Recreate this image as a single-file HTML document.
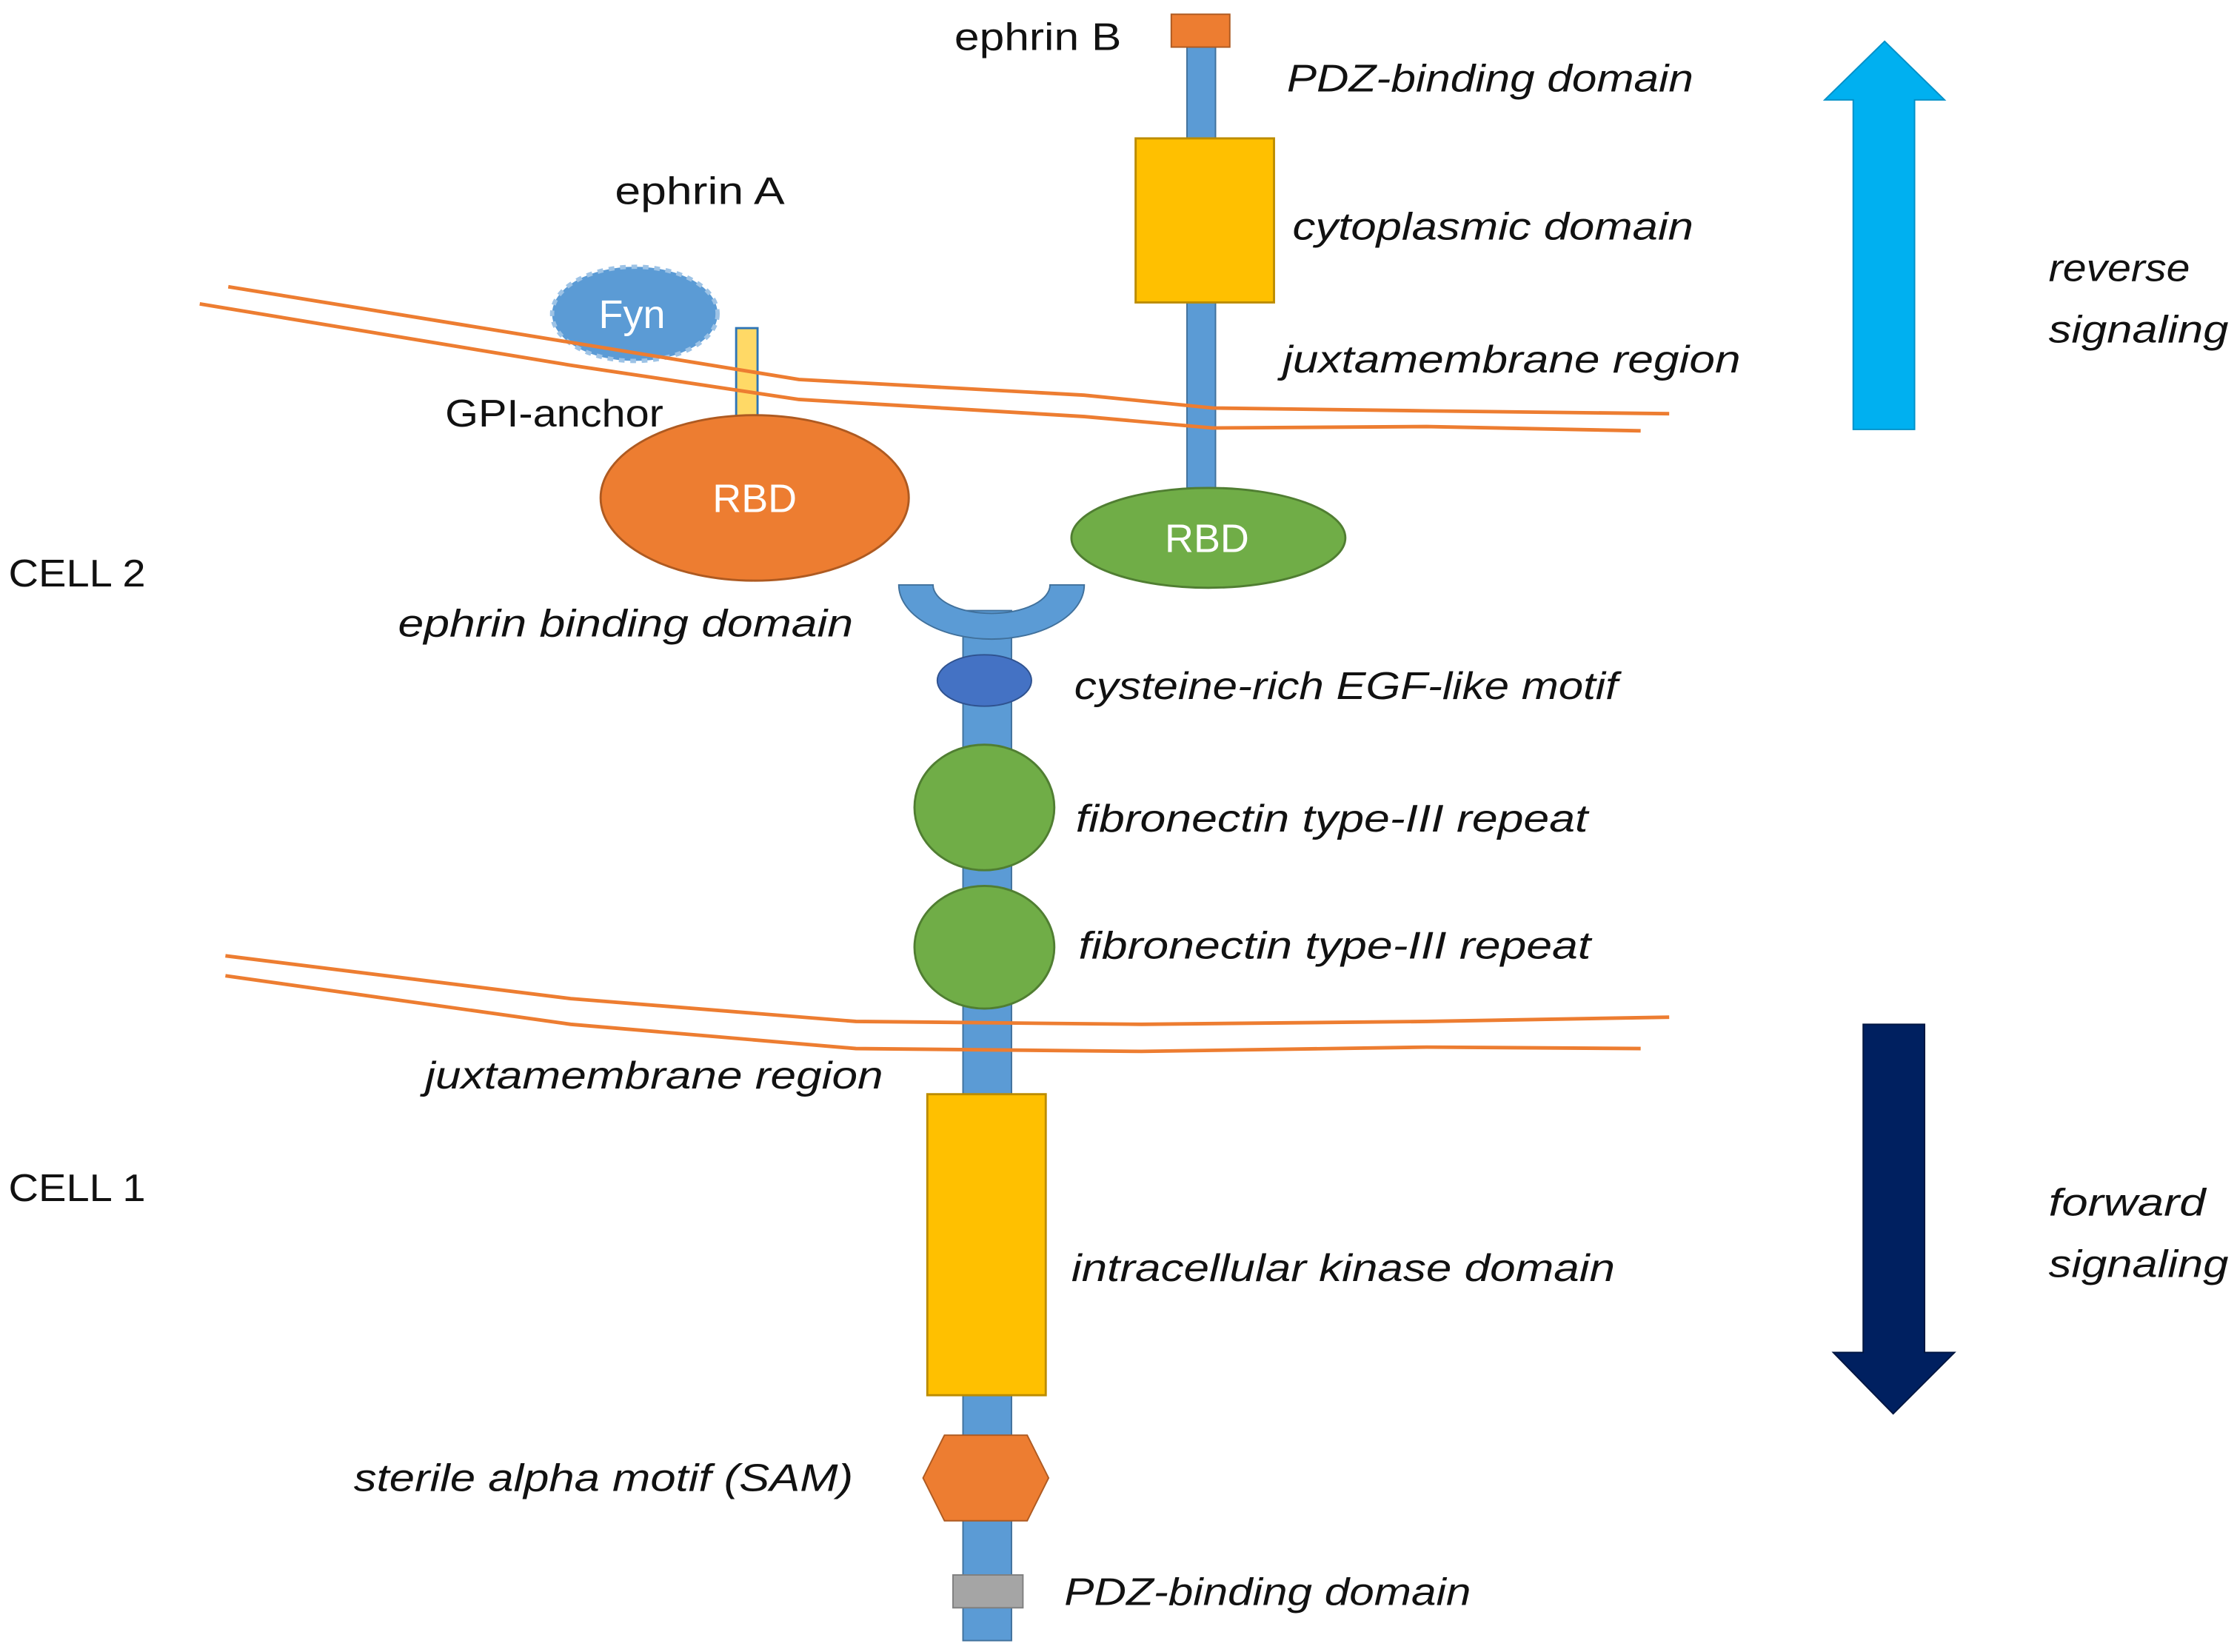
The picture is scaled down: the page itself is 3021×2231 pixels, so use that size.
<!DOCTYPE html>
<html><head><meta charset="utf-8"><style>
html,body{margin:0;padding:0;background:#fff;}
svg{display:block;}
text{font-family:"Liberation Sans",sans-serif;font-size:27px;fill:#111;}
.i{font-style:italic;}
</style></head><body>
<svg width="3021" height="2231" viewBox="0 0 1568 1158" preserveAspectRatio="none" xmlns="http://www.w3.org/2000/svg">
<rect width="1568" height="1158" fill="#fff"/>
<!-- ephrin B -->
<rect x="832" y="30" width="20" height="312" fill="#5b9bd5" stroke="#41719c" stroke-width="1"/>
<rect x="821" y="10" width="41" height="23" fill="#ed7d31" stroke="#ae5a21" stroke-width="1"/>
<rect x="796" y="97" width="97" height="115" fill="#ffc000" stroke="#bc8c00" stroke-width="1.5"/>
<ellipse cx="847" cy="377" rx="96" ry="35" fill="#70ad47" stroke="#507e32" stroke-width="1.5"/>
<text x="846" y="387" text-anchor="middle" style="fill:#fff;font-size:28px">RBD</text>
<!-- ephrin A -->
<rect x="516" y="230" width="15" height="62" fill="#ffd966" stroke="#2e75b6" stroke-width="1.5"/>
<ellipse cx="529" cy="349" rx="108" ry="58" fill="#ed7d31" stroke="#ae5a21" stroke-width="1.5"/>
<text x="529" y="359" text-anchor="middle" style="fill:#fff;font-size:28px">RBD</text>
<ellipse cx="445" cy="220" rx="58" ry="33" fill="#5b9bd5" stroke="#9dc3e6" stroke-width="3" stroke-dasharray="4 4"/>
<text x="443" y="230" text-anchor="middle" style="fill:#fff;font-size:28px">Fyn</text>
<!-- top membrane -->
<polyline points="160,201 400,240 560,266 760,277 850,286 1000,288 1170,290" fill="none" stroke="#ed7d31" stroke-width="2.5"/>
<polyline points="140,213 400,256 560,280 760,292 850,300 1000,299 1150,302" fill="none" stroke="#ed7d31" stroke-width="2.5"/>
<!-- receptor -->
<rect x="675" y="428" width="34" height="722" fill="#5b9bd5" stroke="#41719c" stroke-width="1"/>
<path d="M630,410 L654,410 A41,20 0 0 0 736,410 L760,410 A65,38 0 0 1 630,410 Z" fill="#5b9bd5" stroke="#41719c" stroke-width="1"/>
<ellipse cx="690" cy="477" rx="33" ry="18" fill="#4472c4" stroke="#2f528f" stroke-width="1"/>
<ellipse cx="690" cy="566" rx="49" ry="44" fill="#70ad47" stroke="#507e32" stroke-width="1.5"/>
<ellipse cx="690" cy="664" rx="49" ry="43" fill="#70ad47" stroke="#507e32" stroke-width="1.5"/>
<!-- bottom membrane -->
<polyline points="158,670 400,700 600,716 800,718 1000,716 1170,713" fill="none" stroke="#ed7d31" stroke-width="2.5"/>
<polyline points="158,684 400,718 600,735 800,737 1000,734 1150,735" fill="none" stroke="#ed7d31" stroke-width="2.5"/>
<rect x="650" y="767" width="83" height="211" fill="#ffc000" stroke="#bc8c00" stroke-width="1.5"/>
<polygon points="662,1006 720,1006 735,1036 720,1066 662,1066 647,1036" fill="#ed7d31" stroke="#ae5a21" stroke-width="1"/>
<rect x="668" y="1104" width="49" height="23" fill="#a5a5a5" stroke="#7f7f7f" stroke-width="1"/>
<!-- arrows -->
<polygon points="1321,29 1363,70 1342,70 1342,301 1299,301 1299,70 1279,70" fill="#00b0f0" stroke="#0090c8" stroke-width="1"/>
<polygon points="1306,718 1349,718 1349,948 1370,948 1327,991 1285,948 1306,948" fill="#002060" stroke="#001540" stroke-width="1"/>
<!-- labels -->
<text x="669" y="35" textLength="117" lengthAdjust="spacingAndGlyphs">ephrin B</text>
<text x="431" y="143" textLength="119" lengthAdjust="spacingAndGlyphs">ephrin A</text>
<text x="312" y="299" textLength="153" lengthAdjust="spacingAndGlyphs">GPI-anchor</text>
<text x="6" y="411" textLength="96" lengthAdjust="spacingAndGlyphs">CELL  2</text>
<text x="6" y="842" textLength="96" lengthAdjust="spacingAndGlyphs">CELL  1</text>
<text class="i" x="902" y="64" textLength="285" lengthAdjust="spacingAndGlyphs">PDZ-binding domain</text>
<text class="i" x="906" y="168" textLength="281" lengthAdjust="spacingAndGlyphs">cytoplasmic domain</text>
<text class="i" x="899" y="261" textLength="321" lengthAdjust="spacingAndGlyphs">juxtamembrane region</text>
<text class="i" x="279" y="446" textLength="319" lengthAdjust="spacingAndGlyphs">ephrin binding domain</text>
<text class="i" x="753" y="490" textLength="381" lengthAdjust="spacingAndGlyphs">cysteine-rich EGF-like motif</text>
<text class="i" x="754" y="583" textLength="359" lengthAdjust="spacingAndGlyphs">fibronectin type-III  repeat</text>
<text class="i" x="756" y="672" textLength="359" lengthAdjust="spacingAndGlyphs">fibronectin type-III  repeat</text>
<text class="i" x="298" y="763" textLength="321" lengthAdjust="spacingAndGlyphs">juxtamembrane region</text>
<text class="i" x="751" y="898" textLength="381" lengthAdjust="spacingAndGlyphs">intracellular kinase domain</text>
<text class="i" x="248" y="1045" textLength="350" lengthAdjust="spacingAndGlyphs">sterile alpha motif (SAM)</text>
<text class="i" x="746" y="1125" textLength="285" lengthAdjust="spacingAndGlyphs">PDZ-binding domain</text>
<text class="i" x="1436" y="197" textLength="99" lengthAdjust="spacingAndGlyphs">reverse</text>
<text class="i" x="1436" y="240" textLength="126" lengthAdjust="spacingAndGlyphs">signaling</text>
<text class="i" x="1436" y="852" textLength="110" lengthAdjust="spacingAndGlyphs">forward</text>
<text class="i" x="1436" y="895" textLength="126" lengthAdjust="spacingAndGlyphs">signaling</text>
</svg>
</body></html>
